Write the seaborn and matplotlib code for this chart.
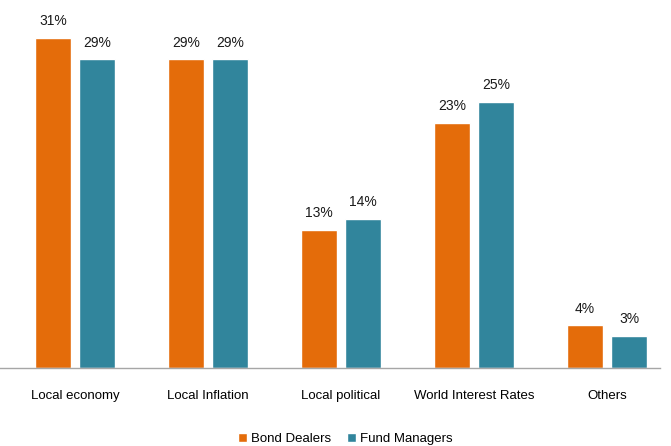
import pandas as pd
import numpy as np
import matplotlib.pyplot as plt
import seaborn as sns

categorias = ["Local economy", "Local Inflation", "Local political", "World Interest Rates", "Others"]
bond_dealers = [31, 29, 13, 23, 4]
fund_managers = [29, 29, 14, 25, 3]
series = ["Bond Dealers", "Fund Managers"]
cores = ["#E46C0A", "#31859C"]

dados = pd.DataFrame({
    "categoria": categorias * 2,
    "valor": bond_dealers + fund_managers,
    "serie": [series[0]] * 5 + [series[1]] * 5,
})

sns.set_style("white")
plt.rcParams['font.family'] = ['Liberation Sans Narrow', 'Liberation Sans', 'DejaVu Sans']

fig = plt.figure(figsize=(6.71, 4.46), dpi=100)
ax = fig.add_axes([0, 78 / 446, 660 / 671, 362 / 446])

sns.barplot(data=dados, x="categoria", y="valor", hue="serie", palette=cores,
            width=0.662, gap=0.2, ax=ax, saturation=1, legend=True)

for cont in ax.containers:
    ax.bar_label(cont, labels=[f"{v:.0f}%" for v in cont.datavalues],
                 padding=7, fontsize=10, color="#1a1a1a")

ax.set_xlim(-0.564, 4.398)
ax.set_ylim(0, 34)
ax.set_yticks([])
ax.set(xlabel="", ylabel="")
ax.tick_params(axis="x", length=0, pad=16, labelsize=9.5, labelcolor="#000000")
for s in ["top", "left", "right"]:
    ax.spines[s].set_visible(False)
ax.spines["bottom"].set_color("#A6A6A6")
ax.spines["bottom"].set_linewidth(1)

ax.legend(loc="upper center", bbox_to_anchor=(345 / 660, -0.16), ncol=2, frameon=False,
          fontsize=9.5, handlelength=0.7, handleheight=0.7, handletextpad=0.3, columnspacing=1.2,
          borderpad=0, labelcolor="#000000")

plt.savefig("out.png", dpi=100)
